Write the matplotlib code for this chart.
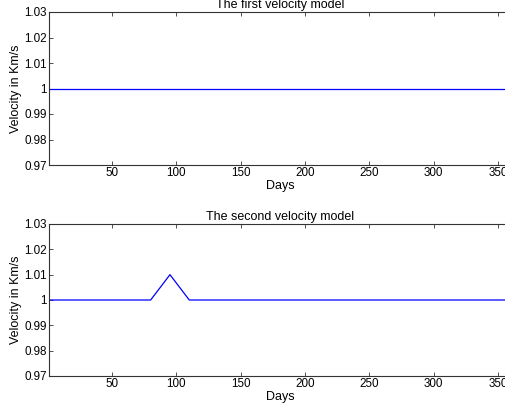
import matplotlib
matplotlib.use("Agg")
import matplotlib.pyplot as plt

# Data
days_model1 = [1, 360]
vel_model1 = [1.0, 1.0]
days_model2 = [1, 80, 95, 110, 360]
vel_model2 = [1.0, 1.0, 1.01, 1.0, 1.0]

titles = ["The first velocity model", "The second velocity model"]
xticks = [50, 100, 150, 200, 250, 300, 350]
yticks = [0.97, 0.98, 0.99, 1.0, 1.01, 1.02, 1.03]
ytick_labels = ["0.97", "0.98", "0.99", "1", "1.01", "1.02", "1.03"]

plt.rcParams['font.family'] = ['Liberation Sans', 'DejaVu Sans']
fs_tick = 8.4
fs_label = 9

W, H = 506, 404
fig = plt.figure(figsize=(W / 100, H / 100), dpi=100)

left = 49 / W
width = (511 - 49) / W
positions = [
    [left, (H - 165) / H, width, 153 / H],
    [left, (H - 376) / H, width, 152 / H],
]

series = [(days_model1, vel_model1), (days_model2, vel_model2)]

for pos, (x, y), title in zip(positions, series, titles):
    ax = fig.add_axes(pos)
    ax.plot(x, y, color=(0, 0, 1), lw=0.9)
    ax.set_xlim(1, 360)
    ax.set_ylim(0.97, 1.03)
    ax.set_xticks(xticks)
    ax.set_xticklabels([str(t) for t in xticks], fontsize=fs_tick)
    ax.set_yticks(yticks)
    ax.set_yticklabels(ytick_labels, fontsize=fs_tick)
    ax.tick_params(direction='in', length=3.2, width=0.6, top=True, right=True,
                   color='#333333', pad=1.5)
    for s in ax.spines.values():
        s.set_linewidth(0.8)
        s.set_color('#333333')
    ax.set_title(title, fontsize=fs_label, pad=2.8)
    ax.set_xlabel("Days", fontsize=fs_label, labelpad=0.5)
    ax.set_ylabel("Velocity in Km/s", fontsize=fs_label, labelpad=1.5)

fig.savefig("out.png", dpi=100)
